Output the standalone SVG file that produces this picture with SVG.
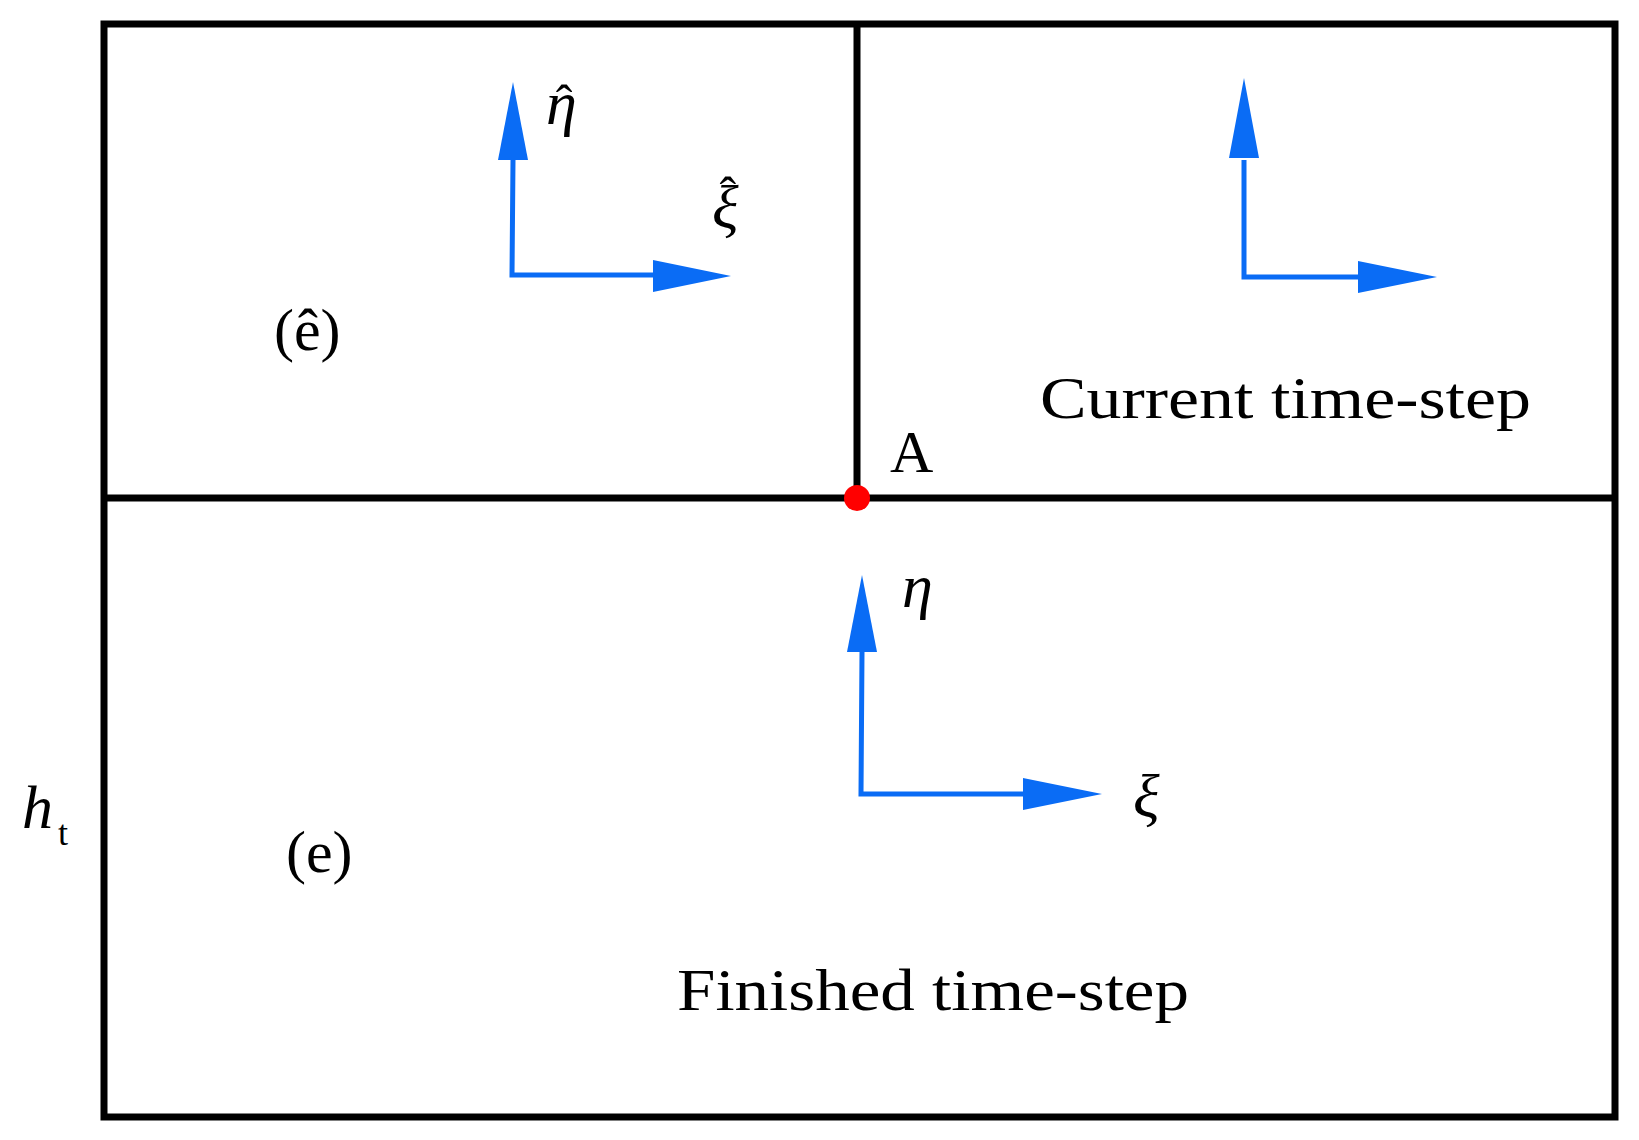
<svg xmlns="http://www.w3.org/2000/svg" width="1639" height="1140" viewBox="0 0 1639 1140">
<style>
.b{stroke:#000;stroke-width:7;fill:none}
.ax{stroke:#0a6cf5;stroke-width:5;fill:none}
.hd{fill:#0a6cf5}
text{font-family:"Liberation Serif",serif;fill:#000}
.t{font-size:60px}
.g{font-style:italic;font-size:62px}
.h{font-size:50px;font-style:normal}
</style>
<rect width="1639" height="1140" fill="#fff"/>
<g id="frame">
<rect class="b" x="104" y="24" width="1511" height="1093"/>
<line class="b" x1="104" y1="498" x2="1615" y2="498"/>
<line class="b" x1="857" y1="24" x2="857" y2="498"/>
</g>
<g id="axes">
<g id="axes-hat">
<polyline class="ax" points="513,160 512,275 655,275"/>
<polygon class="hd" points="513,82 498,160 528,160"/>
<polygon class="hd" points="731,276 653,260 653,292"/>
</g>
<g id="axes-current">
<polyline class="ax" points="1244,160 1244,277 1360,277"/>
<polygon class="hd" points="1244,78 1229,158 1259,158"/>
<polygon class="hd" points="1437,277 1358,261 1358,293"/>
</g>
<g id="axes-finished">
<polyline class="ax" points="862,652 861,794 1025,794"/>
<polygon class="hd" points="862,575 847,652 877,652"/>
<polygon class="hd" points="1102,794 1023,778 1023,810"/>
</g>
</g>
<g id="pointA">
<circle cx="857" cy="498" r="13" fill="#f00"/>
<text class="t" x="890" y="472">A</text>
</g>
<g id="labels">
<text class="g" x="546" y="124">η<tspan class="h" dx="-21" dy="-4">ˆ</tspan></text>
<text class="g" x="712" y="228">ξ<tspan class="h" dx="-19" dy="-16">ˆ</tspan></text>
<text class="t" x="274" y="350" font-size="66">(ê)</text>
<text class="t" x="1040" y="418" textLength="491" lengthAdjust="spacingAndGlyphs">Current time-step</text>
<text class="g" x="902" y="607">η</text>
<text class="g" x="1133" y="817">ξ</text>
<text class="t" x="286" y="872" font-size="66">(e)</text>
<text class="t" x="677" y="1010" textLength="512" lengthAdjust="spacingAndGlyphs">Finished time-step</text>
<text class="g" x="22" y="828">h</text>
<text x="58" y="845" font-size="36">t</text>
</g>
</svg>
